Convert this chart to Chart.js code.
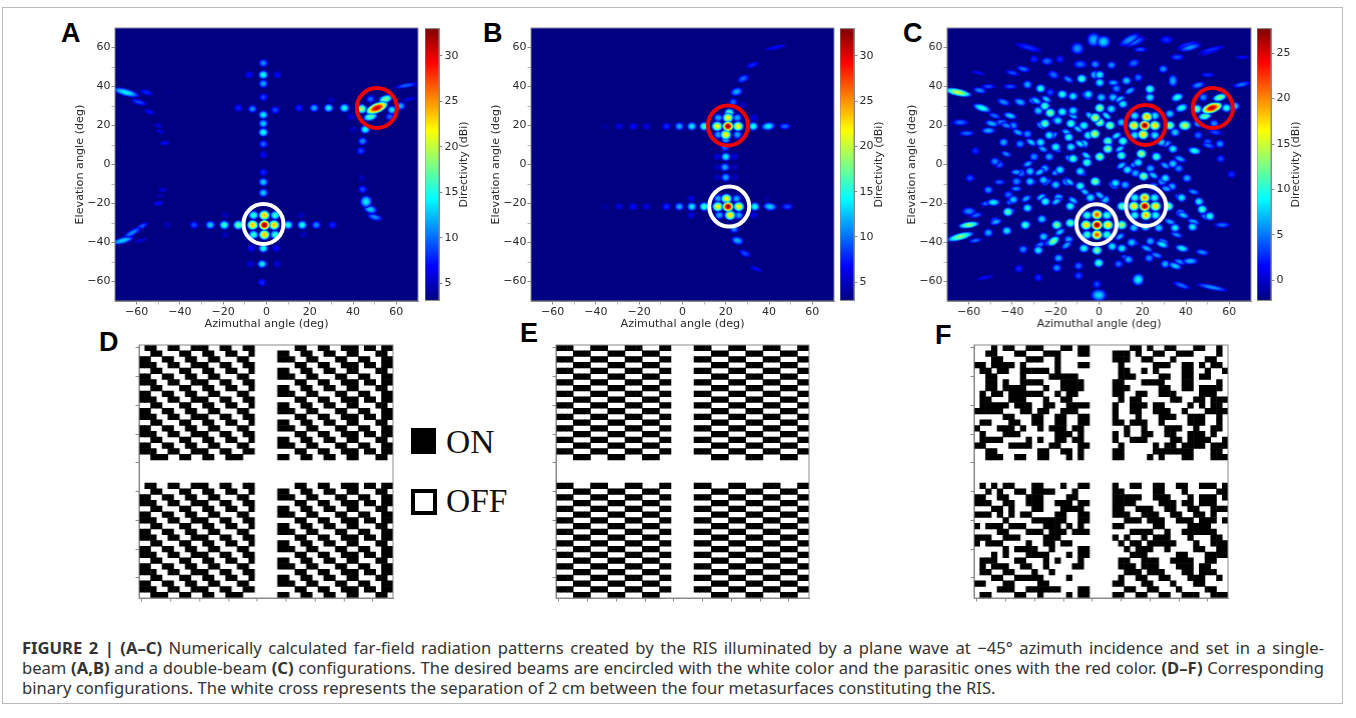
<!DOCTYPE html>
<html>
<head>
<meta charset="utf-8">
<title>Figure 2</title>
<script src="https://cdn.jsdelivr.net/npm/chart.js@4/dist/chart.umd.min.js"></script>
<style>
html, body { margin: 0; padding: 0; background: #fff; overflow: hidden; }
#page { position: relative; width: 1356px; height: 718px; }
canvas { position: absolute; filter: blur(0.4px); }
.letter { position: absolute; font: bold 27px "Liberation Sans", sans-serif; color: #000; line-height: 26px; }
.serif { position: absolute; font: 33.5px "Liberation Serif", serif; color: #111; line-height: 32px; }
.cap { position: absolute; left: 22px; width: 1302px; font: 16.6px "Noto Sans", sans-serif; color: #333; line-height: 20px; white-space: nowrap; }
.just { text-align: justify; text-align-last: justify; white-space: normal; }
#frame { position: absolute; left: 2px; top: 7px; width: 1339px; height: 695px; border: 1px solid #bbb; }
</style>
</head>
<body>
<div id="page">
  <div id="frame"></div>
  <div class="letter" style="left:61px;top:20px">A</div>
  <div class="letter" style="left:483px;top:20px">B</div>
  <div class="letter" style="left:903px;top:20px">C</div>
  <div class="letter" style="left:99px;top:329px">D</div>
  <div class="letter" style="left:520px;top:320px">E</div>
  <div class="letter" style="left:935px;top:322px">F</div>
  <div style="position:absolute;left:411px;top:428px;width:25px;height:26px;background:#000"></div>
  <div class="serif" style="left:446px;top:426px">ON</div>
  <div style="position:absolute;left:411px;top:489px;width:18px;height:18px;border:4px solid #000"></div>
  <div class="serif" style="left:446px;top:485px">OFF</div>
  <div class="cap just" style="top:638px"><b>FIGURE 2 | (A–C)</b> Numerically calculated far-field radiation patterns created by the RIS illuminated by a plane wave at −45° azimuth incidence and set in a single-</div>
  <div class="cap just" style="top:658px">beam <b>(A,B)</b> and a double-beam <b>(C)</b> configurations. The desired beams are encircled with the white color and the parasitic ones with the red color. <b>(D–F)</b> Corresponding</div>
  <div class="cap" style="top:678px">binary configurations. The white cross represents the separation of 2 cm between the four metasurfaces constituting the RIS.</div>
</div>
<script>
const axisLabel = 'Directivity (dBi)';
const tickPositions = [-60, -50, -40, -30, -20, -10, 0, 10, 20, 30, 40, 50, 60];
const tickLabels = [-60, -40, -20, 0, 20, 40, 60];
const cellTicks = [0, 5, 10, 15, 20, 25, 30, 35, 40];

const rangeA = [3.1, 33];
const rangeB = [3, 33];
const rangeC = [-2.2, 27.7];
const barTicksA = [5, 10, 15, 20, 25, 30];
const barTicksB = [5, 10, 15, 20, 25, 30];
const barTicksC = [0, 5, 10, 15, 20, 25];

// lobes: azimuth, elevation, dBi, then half widths and tilt when not round
const spotsA = [
  [-1,-31,33],[-6.4,-31,24],[3.5,-31,24],[-1,-26,24],[-1,-36,24],[-6,-26,16],[4,-26,16],[-6,-36,16],[4,-36,16],
  [-13,-31,18],[10,-31,15],[-19.5,-31,16],[16.5,-31,15],[-26,-31,13],[23,-31,11],[-33.5,-31,9],[30.5,-31,8],[-46,-31,5],
  [-19,-26,5],[-19,-36,5],[16,-26,5],[17,-36,5],
  [-1.5,-43,15],[-2,-51,14],[-2,-60.5,8],[-1.5,-14.5,13],[-1.5,-9,13],[-1.5,-4,8],[-1.5,5,7],[-1.5,10.5,10],
  [-1.5,16.5,15],[-1.5,21,13],[-1.5,25.5,14],[-1.5,34.5,9],[-1.5,41.5,12],[-1.5,46,15],[-1.5,52,11],
  [-8,46,7],[5,46,7],[-7.5,-51,6],[5,-51,6],[-7,-43,7],[4.5,-43,7],
  [51,29,31,5,2.4,-22],[44,28.5,19],[55,33.5,18,3.2,2,-20],[48,24.5,17,3.2,2,-15],[58,28,14],[62,30,12],[57,24.5,10],[48,33.5,10],
  [36,29,15],[28.7,29,14],[22,29,12],[15,29,8],[4,28,9],[-6.5,28.5,11],[-13,29,8],[39,24.5,6],[30,33,5],
  [45.6,18,15],[44.4,12,11],[43.6,7,9],[40,18,5],[44,-7,5],[44.4,-12.7,9],[46,-19,14,2.6,3],[48,-23,13,3,2,15],[50,-27,11,3.4,1.6,15],
  [64.5,40.5,10,5,1.2,-10],[66,33.5,6,3.5,1.2,-10],
  [-65,37,14,6,1.8,15],[-55.5,37,8,3,1.4,15],[-59,32,9,3.5,1.4,15],[-54,27,7,2.5,1.4,20],[-50,20,6,2,1.2,10],[-49,17,6,2,1.2,10],[-47,11,7,2.2,1.2],
  [-48,-13,6,2,1.2],[-49,-16,5,2,1],[-50,-20,7,2.4,1.3,-10],[-66.5,-39,13,5,1.6,-15],[-62,-35,11,4.5,1.5,-30],[-58,-32,10,3.5,1.4,-30],[-58,-39,6,3,1,-15],[-45,37.5,4,2,1,15]
];

const spotsB = [
  [21,19.6,33],[21,24,22],[20,15.3,23],[16,19.6,22],[25.7,19.6,22],[16.5,24,12],[25.3,24,12],[16.5,15.3,12],[25.3,15.3,12],[21.6,26.5,17],[20,13,13],
  [10,19.6,16],[4.3,19.6,14],[-1.5,19.6,12],[-7.4,19.6,8],[-16.6,19.6,6],[-22.8,19.6,7],[-29.3,19.6,6],[-36,19.6,4],[32.7,19.6,15],[39.6,19.6,14,3,2,-8],[47.3,19.6,10,2.6,1.6],
  [21,-21.6,33],[20.3,-17.5,22],[22,-26,23],[16.3,-21.6,22],[26,-21.6,22],[16.5,-17.5,12],[25,-17.5,12],[17,-26,12],[26,-26,12],
  [10,-21.6,16],[4.3,-21.6,14],[-1.5,-21.6,12],[-7.4,-21.6,8],[-16.6,-21.6,6],[-22.8,-21.6,7],[-29.3,-21.6,6],[-36,-21.6,4],[33.4,-21.6,15],[40.4,-21.6,13,3,2,8],[48.4,-21.6,9,2.6,1.6],
  [20,4,14],[19.6,-1.4,12],[20,-6.6,12],[19.6,8.8,10],[24,4,6],[16,4,6],[16,-1.4,5],[24,-1.4,5],[16,-6.6,5],[24,-6.6,5],[4,-17.5,6],[4,-26,6],[33,24,6],[39,-17.5,4],[33,-26,6],
  [25,37.3,12,2.8,2,-15],[28,44,10,2.8,1.8,-25],[32.3,51,8,3,1.3,-20],[43,60,7,5,1.1,-12],[23.4,32,10],[23.9,-33,11],[25.4,-39,12,2.8,2,15],[28.8,-45.6,9,2.8,1.6,25],[34,-53.6,7,3,1.2,20],[28,30.5,5]
];

const spotsC = [
  [-2.5,64,7,3,3.4],[-10,59.5,6,2.8,3],[-32.5,60,3,6,1.6,15],[-18,54,3],[-24,53,5,2.6,2],[-30,54,3],[-35,49,5,3,1.6,15],[-40,47,4,3,1.4,15],[-55.6,47,2,3,1,15],
  [-8.7,51.4,5,3,2],[-1.8,51.4,6],[-21,46,5,2.6,2,25],[-8,44,11],[-2,46,8],[-33,41,7],[-27,39,10],[-41,40,4,3,1.4],[-51,40,4,3,1.3],[-65,37,15,6,1.8,12],[-55,38,6,3,1.5,12],
  [-17,36,10],[-12,35,9],[-5,36,9],[-22.5,37,4],[-44,32,6,3,1.6,20],[-36.4,32,7,2.8,1.8,20],[-30,33,8,2.4,1.8],[-54,29,10,4,1.8,18],[-41,25,8,3,1.6,15],[-25,30,11],[-22.5,26.5,13],[-28,27.6,8],
  [-17,27,10],[-12,27.6,9],[-1.8,24,15],[-64,21.6,5,3.6,1.6],[-49.5,21,7,3,1.6,15],[-45,21.6,6,2.6,1.6],[-39.5,20,6],[-25,21,12],[-19,22.5,9],[-13,21,11],[-7,20,10],[-2,15.7,15],
  [-61,16,5,3.4,1.4],[-51,17.4,7,3,1.6],[-44,11.4,7],[-33,15.7,6],[-27,11.4,9],[-23,15,9],[-14,14,10],[-5,15,10],[-7,10.6,9],[-36.4,10.6,6],[-20,9,10],[-13,9,9],[-57,7,3],[-48,1.6,6],[-30,4,6],[-23,4,7],[-12,3,11],[-5.6,1,11],
  [-46,0,5],[-31.8,-3.5,8],[-36,-4.4,6],[-25,-2,7],[-18,-2.7,9],[-8.7,-3.5,9],[-1.8,-8.7,13],[-31.8,-8.7,8],[-38,-8.7,6],[-25.6,-8,8],[-59.5,-7,4],[-51,-13,6],[-15,-8.7,8],[-20,-10.4,8],[-8.7,-11,10],
  [-41.8,-15.5,5],[-24.8,-19,10],[-33,-22.3,9],[-48.7,-19.4,9,2.8,1.8],[-39.5,-18,8],[-60,-24,6,3,2],[-42,-24.3,12],[-13.3,-21.4,10],[-18.7,-17,8],[-4,-17,9],[2.8,-18,8],
  [-1,-25.7,22],[-1,-31,27.7],[-1,-36,22],[-6,-31,18],[4,-31,18],[-5.6,-26,11],[3.6,-26,11],[-5.6,-36,11],[3.6,-36,11],
  [-13.3,-30,12],[-19.5,-31,13],[-26.4,-28,8],[-34,-31,11],[-48,-29,6],[-51,-35,7],[-42.5,-34,9],[-60,-31,13,4.6,1.6,-8],[-64,-37,13,6,1.8,-15],[-57,-39,5,3,1.2,-10],[-25.6,-37,8],[-21,-39.3,13,3,2,-35],[-14,-38.5,7],[10.5,-31,14],
  [-7,-43,10],[-1,-44,13],[6,-42,9],[-35,-43.5,6],[-28,-44,9],[-18.7,-48,7],[-19.5,-53,6],[-9.5,-52,5],[-0.2,-50.5,11],[-37,-53.4,3],[-9.5,-57,4],[-28,-58,3],[-52.5,-58,2,4,1,-12],[-0.2,-67,8,3.4,3],[-1,-61.4,4],
  [16.7,-4.4,7],[20.5,-6,13],[13,-2.7,9],[30.5,-7,9],[23.6,-2,7],[40.5,-7,7],[36.7,-2,6],[7.5,-9.5,9],[12,-10.4,7],[38,-17,9],[33.6,-11.3,7],[25,-11.3,7],[46,-19,9],[29,-8.7,7],[47.5,-23,11],[51,-26.5,10],
  [10.5,-21.4,12],[16,-21.4,18],[26,-21.4,18],[21,-17,20],[21.6,-26,19],[21,-21.4,27.7],[16.4,-17,10],[25.5,-17,10],[16.4,-26,10],[26,-26,10],
  [32,-21.4,13],[37.5,-25,8],[35,-32.5,9],[43,-32,9],[27.5,-32.5,8],[21.3,-32,9],[16,-32.5,8],[56.7,-31,5,3.5,1.4],[23.6,-39.3,7],[29,-41,9,3,1.6,20],[38.2,-43,9,3,1.8,15],[47.5,-45,6,3,1.5,10],[15,-40,8],[10.5,-43,9],[13.6,-48.7,7],[23,-48,6],[30.5,-51,7],[42,-49.5,7,3.4,1.7],[35,-52,8,3,1.6,20],[18,-59,9,2.6,3,20],[38,-62,5,4,1.4,20],[52,-63,6,7,1.3,12],[9,-51,5],[61,-5,3],
  [2,63,8,3,3],[16.4,63,5,5,2,-20],[31,64,3,3,2],[41,61,4,5,1.8,-15],[51,58,3,5,1.4,-15],[19,59,4,3,1.4],[36,55,4,3,1.6],[5.7,51,6],[16,52,5,2.6,2,-20],[29.5,49,6],[50,46,3,3,1.2],[66,55,2,3,1],
  [0.3,46,9],[12.6,43,8],[23.4,38.7,11],[18,44.6,5],[34,43,7,2,3],[45.6,40.7,6,3,1.6,-15],[65.6,41,5,4,1.4,-12],[8,39,6],[0.3,42,9],[1,34.4,8],[6.4,34.4,8],[11,31,9],[23.4,34.4,9],[36,34.4,10,2.8,2,-20],[38,29,10,2.8,2,-20],[32.6,26,8],
  [0.3,21.6,13],[5,20,13],[10.3,21.6,8],[5.6,28.5,9],[0.3,29,13],
  [52,29,26,4.6,2.4,-18],[45,28.5,12],[55.6,34.4,13,3.2,1.8,-15],[48.7,24.7,12,3,1.8,-10],[58.7,29,10],[62.6,30,8],[53,21,6],[48,34.4,6],
  [21,20,27.7],[22,24.5,19],[20.3,15.4,18],[16,20,18],[25.7,20,18],[16.4,25,9],[25.7,25,9],[16.4,15,9],[25.7,15,9],
  [32.6,20,13],[39.5,20,15,2.8,2.4],[45.6,21,7],[19.5,5.5,14],[4,8,13],[11,12,11],[4,12,12],[10.3,4.6,11],[26.4,4,11],[34,8,9],[44,7,10,2.8,1.8,10],[35,16.5,8],[55.7,10.6,6],[50,11.4,5],[45.6,15,5],[28.7,11.4,8],[0.3,4,13],[18,1,9],[34,0.4,8],[56,3,4]
];

// the weaker, drawn-out lobes that fill the gaps in map C
const spotsCFill = [
  [14,64,6,5,2,-30],[42,60,6,5,1.6,-15],[52,59,3,6,1.2,-15],
  [-29,32.7,8,2.6,1.5,30],[-22.8,26.7,9,2.4,1.5,-30],[-16.6,36,8,2.4,1.5,30],[-12,25,8,2.4,1.5,30],[-5.9,35.2,8,2.4,1.5,40],[-14.3,43.7,6,2.4,1.5,30],[-24.3,33.5,8,2.4,1.5,30],[-19.7,23.3,8,2.4,1.5,-30],
  [-26.7,20,8,2.4,1.5,30],[-31.3,11.4,8,2.6,1.5,30],[-37.4,16.5,7,2.6,1.5,25],[-42.8,20,6,2.6,1.4,20],[-48.2,25,5,2.8,1.4,20],[-41.3,25,6,2.6,1.4,20],[-48.2,1.2,5,2.2,1.4],[-42.8,5.4,6,2.4,1.4,20],[-38.2,-3.9,7,2.4,1.4],[-32.8,0.3,7,2.4,1.5,-25],[-27.4,-3.9,8,2.4,1.5,-30],
  [-19.7,8,8,2.4,1.5,35],[-13.6,2.9,8,2.4,1.5,35],[-8.9,10.6,9,2.4,1.5,35],[-5.9,4.6,9,2.4,1.5,35],[-1.2,-9,9,2.4,1.5,35],[-8.2,-3.9,8,2.4,1.5,35],[-13.6,-9,8,2.4,1.5,35],[-19.7,-3.9,8,2.4,1.5,-30],[-24.3,-9,7,2.4,1.5,-30],[-31.3,-9,7,2.4,1.5],[-38.2,-12.4,6,2.4,1.4],[-46,-9,5,2.4,1.4],
  [-40.5,-19,7,2.4,1.5,-20],[-33.6,-17.5,7,2.4,1.5,-30],[-26.7,-16.7,8,2.4,1.5,-30],[-19.7,-19,8,2.4,1.5,-30],[-12,-18.4,8,2.4,1.5,35],[-6.6,-14,8,2.4,1.5,35],[0.3,-15.8,8,2.4,1.5,35],[6.5,-10.7,8,2.4,1.5,35],
  [10.3,-0.5,8,2.4,1.5,-30],[16.5,0.3,8,2.4,1.5,-30],[25,-5.6,8,2.4,1.5,30],[30.4,-0.5,7,2.4,1.5,30],[37.3,2.9,7,2.8,1.5,20],[43.5,7.1,7,2.8,1.5,20],[50.4,9.7,5,3,1.4,15],[53.5,16.5,4,3,1.4,10],[31,10.6,7,2.4,1.5,-25],[26.5,4.6,7,2.4,1.5,30],
  [9.6,8,8,2.4,1.5,-30],[4.2,11.4,9,2.4,1.5,35],[8,14.8,9,2.4,1.5,-30],[3.4,25,9,2.4,1.5,40],[9.6,33.5,8,2.4,1.5,-30],[14.2,37.8,7,2.6,1.5,-30],[6.5,42,7,2.4,1.5],[-4.3,25,9,2.4,1.5,40],[-9.7,18.2,8,2.4,1.5,30],[-15,16.5,8,2.4,1.5,30],[-21.3,14.8,8,2.4,1.5,-30],[-25.9,8,7,2.4,1.5,30],
  [31,-12.4,7,2.4,1.5,15],[37.3,-16.7,7,2.6,1.5,15],[43.5,-14,6,2.6,1.4,15],[38.8,-26,8,2.6,1.5,20],[32.7,-29.4,7,2.6,1.5,20],[43.5,-29.4,7,2.8,1.5,20],[49.6,-27,7,3,1.5,20],[35.7,-36,6,2.8,1.4,20],[29.6,-39.7,7,2.6,1.5,25],[15.7,-39.7,7,2.6,1.5,25],[9.6,-37,7,2.4,1.5,-35],[21.9,-43,7,2.8,1.5,25],[26.5,-46.5,6,2.8,1.4,20],[37.3,-49.9,6,3,1.4,15],[12.6,-48,6,2.6,1.5,25],
  [-15,-41.4,7,2.6,1.5,-35],[-22.8,-39.7,7,2.6,1.5,-35],[-18,-34.6,8,2.4,1.5,-30],[-27.4,-41.4,6,2.6,1.5,-30],[-33.6,-31,8,2.4,1.5,-20],[-41.3,-24.3,8,2.6,1.5,-20],[-47.5,-29.4,7,2.6,1.5,-15],[-52,-20,5,2.6,1.4,-10],[-56.7,-26,5,2.8,1.4,-10]
];

const whiteRingsA = [[-1.4, -30.5]];
const redRingsA = [[51, 29]];
const whiteRingsB = [[21.6, -21.6]];
const redRingsB = [[21, 20]];
const whiteRingsC = [[-1.2, -30.6], [21.6, -21.3]];
const redRingsC = [[21.4, 20.3], [52.4, 29]];

// binary boards, one string per row of a 20x20 metasurface, 1 = ON
const boardDLeft = ['01100110011100110011','00110001100110011001','11001100110011000110','11100110011100110011','00110001100110011001','11001100110011000110','11100110011100110011','00110001100110011001','11001100110011000110','11100110011100110011','00110001100110011001','11001100110011000110','11100110011100110011','00110001100110011001','11001100110011000110','11100110011100110011','00110001100110011001','11001100110011000110','11100110011100110011','00111001100110011100'];
const boardDRight = ['00011001100111011011','11001100110011000110','11100110001100110011','00011001100111011011','11001100110011000110','11100110001100110011','00011001100111011011','11001100110011000110','11100110001100110011','00011001100111011011','11001100110011000110','11100110001100110011','00011001100111011011','11001100110011000110','11100110001100110011','00011001100111011011','11001100110011000110','11100110001100110011','00011001100111011011','11001100110011000110'];
const boardE = ['11100011100011100011','00011100011100011100','11100011100011100011','00011100011100011100','11100011100011100011','00011100011100011100','11100011100011100011','00011100011100011100','11100011100011100011','00011100011100011100','11100011100011100011','00011100011100011100','11100011100011100011','00011100011100011100','11100011100011100011','00011100011100011100','11100011100011100011','00011100011100011100','11100011100011100011','00011100011100011100'];
const boardFTopLeft = ['00010110011100011011','00110001100011100011','00011000011100100000','11011110100000100011','01101100111110100000','00110000100001111100','00110100111100011110','00110111100010011110','01011011111100101100','01100011100010011000','01111101110011001111','11111000110110011100','00000110001100110011','01100011001100110011','10001110100101110110','01000111000000111010','01111000010100110110','11000011110001100011','00110000000110011010','00111001100110001010'];
const boardFTopRight = ['00011010011000110010','11101001100111000010','11100110001000001100','01000001110011010110','01100101000011001001','01110000110011011000','11000111100011000010','11100000110011011110','11001100111000011100','01011000001100110111','10011101100001010110','10011001110010001111','10001000111001110010','11011100100001110010','00100100011100100110','10100110011001110100','10011100001101111001','01000001011011110111','11000001111111000110','11000010100011000111'];
const boardFBottomLeft = ['01010110001100010011','00101001101111000100','11001100011100001100','11100110011100111011','00011010001100011110','11101010110000110011','00000100001111110011','10111011100011101010','00001100011101110111','11100111000011100000','10111000010011011000','00000101111001000011','00010100011110001011','01110001100010100010','01011100110010000110','01100110001001000000','00011001111100001000','11000110000110000000','00001110011111100011','01100001100100001011'];
const boardFBottomRight = ['10011001100110011101','11000001100010000011','11111001110001011101','11110000111011011100','11001110011001100111','11100111001100110100','00111011100111011101','11000001100001111000','00011110010011111100','10100101110001000110','01011011111000100111','00101110010000110011','00011100000110001111','01100111001111001100','01110111000111011000','00111011100011011100','01001100110001110010','11000110001000110000','00110011000100001100','11001100110011100111'];

const ink = '#2b2b2b';
const edge = '#8a8a8a';
const fontName = '"DejaVu Sans", sans-serif';

function jet(t) {
  const f = k => Math.round(255 * Math.min(1, Math.max(0, 1.5 - Math.abs(4 * t - k))));
  return [f(3), f(2), f(1)];
}

function rangeOf(chart) { return chart.options.plugins.frame.range; }

// one soft lobe painted in the colormap, handed to the chart as a point style
function lobeImage(ctx) {
  const chart = ctx.chart, p = ctx.raw;
  if (!p || !chart.chartArea || !chart.scales.x.width) return 'circle';
  const lo = rangeOf(chart)[0], hi = rangeOf(chart)[1];
  const pxX = chart.scales.x.width / 140, pxY = chart.scales.y.height / 140;
  const base = 2.1 + Math.min(0.8, Math.max(0, (p[2] - lo) * 0.04));
  const rx = (p[3] ? p[3] * 1.2 : base) * pxX, ry = (p[4] ? p[4] * 1.2 : base) * pxY;
  const w = Math.max(2, Math.ceil(rx * 2)), h = Math.max(2, Math.ceil(ry * 2));
  const c = document.createElement('canvas');
  c.width = w; c.height = h;
  const g = c.getContext('2d');
  const img = g.createImageData(w, h);
  for (let j = 0; j < h; j++) {
    for (let i = 0; i < w; i++) {
      const dx = (i + 0.5 - w / 2) / rx, dy = (j + 0.5 - h / 2) / ry;
      const q = dx * dx + dy * dy;
      if (q >= 1) continue;
      const v = p[2] - (p[2] - lo) * q;
      const col = jet((v - lo) / (hi - lo));
      const k = (j * w + i) * 4;
      img.data[k] = col[0]; img.data[k + 1] = col[1]; img.data[k + 2] = col[2];
      img.data[k + 3] = Math.min(255, 255 * (1 - q) * 3);
    }
  }
  g.putImageData(img, 0, 0);
  return c;
}

const framePlugin = {
  id: 'frame',
  beforeDatasetsDraw(chart, args, opts) {
    if (!opts.fill) return;
    const a = chart.chartArea;
    chart.ctx.fillStyle = opts.fill;
    chart.ctx.fillRect(a.left, a.top, a.width, a.height);
  },
  afterDraw(chart) {
    const a = chart.chartArea, g = chart.ctx;
    g.save();
    g.strokeStyle = edge;
    g.lineWidth = 1;
    g.strokeRect(a.left, a.top, a.width, a.height);
    g.restore();
  }
};

const sideTitle = {
  id: 'sideTitle',
  afterDraw(chart) {
    const a = chart.chartArea, g = chart.ctx;
    g.save();
    g.translate(a.right + 25, (a.top + a.bottom) / 2);
    g.rotate(-Math.PI / 2);
    g.font = '11px ' + fontName;
    g.fillStyle = ink;
    g.textAlign = 'center';
    g.textBaseline = 'middle';
    g.fillText(axisLabel, 0, 0);
    g.restore();
  }
};

function addCanvas(left, top, w, h) {
  const c = document.createElement('canvas');
  c.width = w; c.height = h;
  c.style.left = left + 'px';
  c.style.top = top + 'px';
  c.style.width = w + 'px';
  c.style.height = h + 'px';
  document.getElementById('page').appendChild(c);
  return c;
}

function fmt(v) { return String(v).replace('-', '\u2212'); }

function angleScale(title, horizontal) {
  return {
    type: 'linear', min: -70, max: 70,
    afterBuildTicks: s => { s.ticks = tickPositions.map(v => ({ value: v })); },
    afterFit: s => { if (horizontal) s.height = 30; else s.width = 45; },
    title: { display: true, text: title, color: ink, font: { size: 11.2, family: fontName }, padding: { top: 3, bottom: 0 } },
    border: { color: edge },
    grid: { drawOnChartArea: false, tickLength: 3.5, tickColor: edge, tickWidth: c => (c.tick && c.tick.value % 20 === 0 ? 1 : 0.6) },
    ticks: {
      autoSkip: false, maxRotation: 0, padding: 1, color: ink, font: { size: 11, family: fontName },
      callback: v => (tickLabels.includes(v) ? fmt(v) : '')
    }
  };
}

function ringSet(rings, color) {
  return {
    data: rings.map(r => ({ x: r[0], y: r[1] })),
    order: 0, pointRadius: 20, pointBorderWidth: 4,
    pointBorderColor: color, pointBackgroundColor: 'rgba(0,0,0,0)'
  };
}

function mapChart(left, top, spots, range, whites, reds) {
  const sorted = spots.slice().sort((a, b) => a[2] - b[2]);
  const canvas = addCanvas(left - 45, top - 8, 303.3 + 45 + 12, 273.3 + 8 + 30);
  new Chart(canvas, {
    type: 'scatter',
    data: {
      datasets: [
        {
          data: sorted.map(s => Object.assign(s.slice(), { x: s[0], y: s[1] })),
          order: 1, pointRadius: 1,
          pointStyle: lobeImage,
          pointRotation: c => (c.raw && c.raw[5]) || 0
        },
        ringSet(whites, '#ffffff'),
        ringSet(reds, '#f00000')
      ]
    },
    plugins: [framePlugin],
    options: {
      responsive: false, animation: false,
      layout: { autoPadding: false, padding: { top: 8, right: 12 } },
      plugins: {
        legend: { display: false }, tooltip: { enabled: false },
        frame: { range: range, fill: 'rgb(0,0,128)' }
      },
      scales: { x: angleScale('Azimuthal angle (deg)', true), y: angleScale('Elevation angle (deg)', false) }
    }
  });
}

function colorBar(left, top, range, ticks) {
  const canvas = addCanvas(left, top - 8, 14 + 45, 273.3 + 16);
  new Chart(canvas, {
    type: 'bar',
    data: {
      labels: [''],
      datasets: [{
        data: [range],
        barPercentage: 1, categoryPercentage: 1, borderWidth: 0,
        backgroundColor: c => {
          const a = c.chart.chartArea;
          if (!a) return '#000080';
          const g = c.chart.ctx.createLinearGradient(0, a.bottom, 0, a.top);
          for (let i = 0; i <= 16; i++) {
            const col = jet(i / 16);
            g.addColorStop(i / 16, 'rgb(' + col.join(',') + ')');
          }
          return g;
        }
      }]
    },
    plugins: [framePlugin, sideTitle],
    options: {
      responsive: false, animation: false,
      layout: { autoPadding: false, padding: { top: 8, bottom: 8 } },
      plugins: { legend: { display: false }, tooltip: { enabled: false }, frame: { range: range } },
      scales: {
        x: { display: false },
        y: {
          position: 'right', min: range[0], max: range[1],
          afterBuildTicks: s => { s.ticks = ticks.map(v => ({ value: v })); },
          afterFit: s => { s.width = 45; },
          border: { color: edge },
          grid: { drawOnChartArea: false, tickLength: 3.5, tickColor: edge },
          ticks: { padding: 2, color: ink, font: { size: 11, family: fontName } }
        }
      }
    }
  });
}

// turn the four boards into ON cells on the 44x44 grid, 4 empty cells between them
function onCells(tl, tr, bl, br) {
  const out = [];
  [[tl, 0, 0], [tr, 24, 0], [bl, 0, 24], [br, 24, 24]].forEach(q => {
    q[0].forEach((row, r) => {
      row.split('').forEach((ch, c) => {
        if (ch === '1') out.push({ x: c + q[1], y: r + q[2] });
      });
    });
  });
  return out;
}

function cellScale(horizontal, reverse) {
  return {
    type: 'linear', min: -0.5, max: 43.5, reverse: reverse,
    afterBuildTicks: s => { s.ticks = cellTicks.map(v => ({ value: v })); },
    afterFit: s => { if (horizontal) s.height = 6; else s.width = 6; },
    border: { color: edge },
    grid: { drawOnChartArea: false, tickLength: 3.5, tickColor: edge },
    ticks: { display: false }
  };
}

function boardChart(left, top, cells) {
  const canvas = addCanvas(left - 6, top - 3, 253.4 + 9, 253 + 9);
  new Chart(canvas, {
    type: 'scatter',
    data: {
      datasets: [{
        data: cells, pointStyle: 'rect', pointRadius: 4.45, pointBorderWidth: 0,
        pointBackgroundColor: '#000', pointBorderColor: '#000'
      }]
    },
    plugins: [framePlugin],
    options: {
      responsive: false, animation: false,
      layout: { autoPadding: false, padding: { top: 3, right: 3 } },
      plugins: { legend: { display: false }, tooltip: { enabled: false }, frame: {} },
      scales: { x: cellScale(true, false), y: cellScale(false, true) }
    }
  });
}

mapChart(115, 27.7, spotsA, rangeA, whiteRingsA, redRingsA);
mapChart(531, 27.7, spotsB, rangeB, whiteRingsB, redRingsB);
mapChart(947.3, 27.7, spotsC.concat(spotsCFill), rangeC, whiteRingsC, redRingsC);

colorBar(424.7, 27.7, rangeA, barTicksA);
colorBar(840.3, 27.7, rangeB, barTicksB);
colorBar(1257, 27.7, rangeC, barTicksC);

boardChart(139.3, 344.7, onCells(boardDLeft, boardDRight, boardDLeft, boardDRight));
boardChart(556, 344.7, onCells(boardE, boardE, boardE, boardE));
boardChart(974.3, 344.7, onCells(boardFTopLeft, boardFTopRight, boardFBottomLeft, boardFBottomRight));
</script>
</body>
</html>
